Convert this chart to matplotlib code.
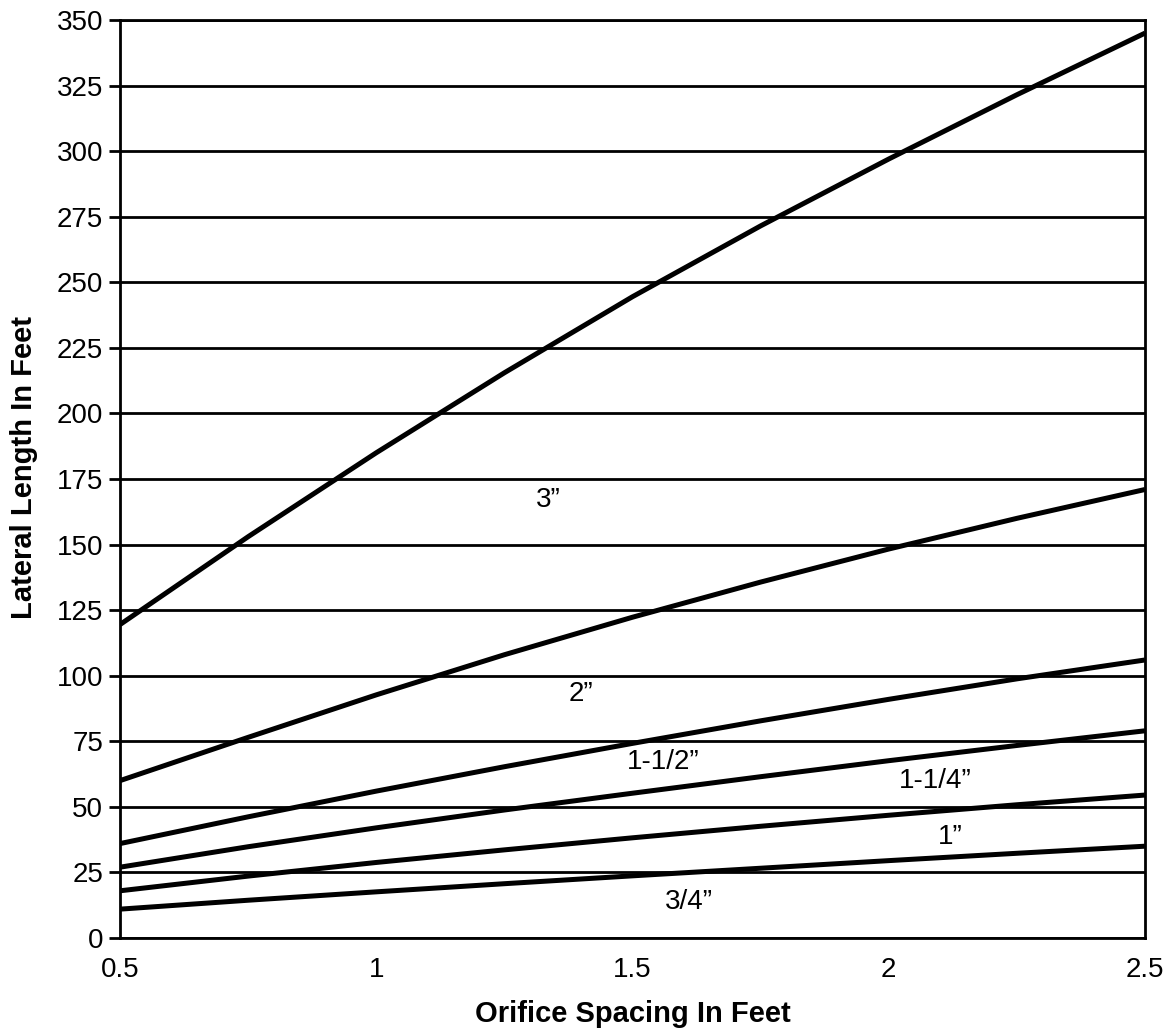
import matplotlib
matplotlib.use("Agg")
import matplotlib.pyplot as plt

plt.rcParams['font.family'] = ['Liberation Sans', 'DejaVu Sans']

x_vals = [0.5, 0.75, 1.0, 1.25, 1.5, 1.75, 2.0, 2.25, 2.5]
size_3 = [119.5, 153, 185, 215.5, 244.5, 271.5, 297, 321.5, 345]
size_2 = [60, 76.5, 92.7, 108, 122.3, 135.7, 148.3, 160, 171]
size_1_5 = [36, 46.2, 56, 65.3, 74.2, 82.8, 91, 98.8, 106]
size_1_25 = [27, 34.8, 42, 48.8, 55.2, 61.5, 67.6, 73.4, 79]
size_1 = [18, 23.6, 28.8, 33.6, 38.2, 42.6, 46.8, 50.8, 54.5]
size_0_75 = [11, 14.4, 17.6, 20.7, 23.7, 26.6, 29.5, 32.3, 35]

series = [size_3, size_2, size_1_5, size_1_25, size_1, size_0_75]
labels = ['3\u201d', '2\u201d', '1-1/2\u201d', '1-1/4\u201d', '1\u201d', '3/4\u201d']
label_x = [1.335, 1.40, 1.56, 2.09, 2.12, 1.61]
label_y = [167, 93, 67, 60, 38.5, 13.7]

x_ticks = [0.5, 1, 1.5, 2, 2.5]
x_ticklabels = ['0.5', '1', '1.5', '2', '2.5']
y_ticks = list(range(0, 351, 25))

fig = plt.figure(figsize=(11.73, 10.32), dpi=100)
ax = fig.add_axes([120/1173, 94/1032, 1025/1173, 918/1032])

for yt in y_ticks:
    ax.axhline(yt, color='black', lw=2.0, zorder=1)

for s in series:
    ax.plot(x_vals, s, color='black', lw=3.6, solid_capstyle='butt',
            solid_joinstyle='round', zorder=3)

for lab, lx, ly in zip(labels, label_x, label_y):
    ax.text(lx, ly, lab, ha='center', va='center', fontsize=20, zorder=4)

ax.set_xlim(0.5, 2.5)
ax.set_ylim(0, 350)
ax.set_xticks(x_ticks)
ax.set_xticklabels(x_ticklabels)
ax.set_yticks(y_ticks)
ax.tick_params(axis='x', length=0, pad=14, labelsize=20)
ax.tick_params(axis='y', length=8, width=2.0, pad=4, labelsize=20)
for sp in ax.spines.values():
    sp.set_linewidth(2.0)
    sp.set_color('black')

ax.set_xlabel('Orifice Spacing In Feet', fontsize=21, fontweight='bold', labelpad=12)
ax.set_ylabel('Lateral Length In Feet', fontsize=21, fontweight='bold')
ax.yaxis.set_label_coords(-0.080, 0.513)

fig.savefig('out.png', dpi=100)
